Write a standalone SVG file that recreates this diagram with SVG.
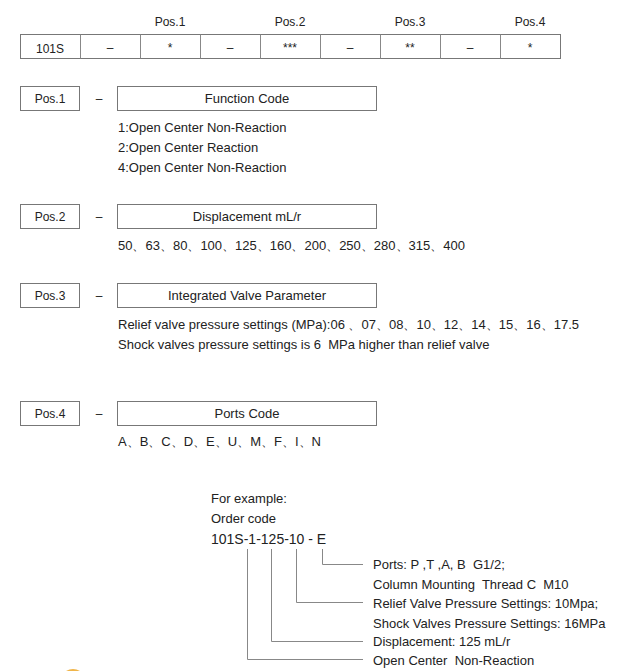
<svg xmlns="http://www.w3.org/2000/svg" width="618" height="671" viewBox="0 0 618 671">
<style>
text{font-family:"Liberation Sans",Arial,sans-serif;fill:#222;}
.t{font-size:12px;}
.c{text-anchor:middle;}
.b{fill:#fff;stroke:#777;stroke-width:1;}
.l{font-size:13px;}
.ln{stroke:#888;stroke-width:1;fill:none;}
</style>
<g id="header">
<text class="t c" x="170" y="25.5">Pos.1</text>
<text class="t c" x="290" y="25.5">Pos.2</text>
<text class="t c" x="410" y="25.5">Pos.3</text>
<text class="t c" x="530" y="25.5">Pos.4</text>
</g>
<g id="code-table">
<rect class="b" x="20.5" y="34.5" width="540" height="24"/>
<path class="ln" d="M80.5 34.5V58.5M140.5 34.5V58.5M200.5 34.5V58.5M260.5 34.5V58.5M320.5 34.5V58.5M380.5 34.5V58.5M440.5 34.5V58.5M500.5 34.5V58.5"/>
<text class="t c" x="50" y="53">101S</text>
<text class="t c" x="110" y="52">–</text>
<text class="t c" x="170" y="52">*</text>
<text class="t c" x="230" y="52">–</text>
<text class="t c" x="290" y="52">***</text>
<text class="t c" x="350" y="52">–</text>
<text class="t c" x="410" y="52">**</text>
<text class="t c" x="470" y="52">–</text>
<text class="t c" x="530" y="52">*</text>
</g>
<g id="pos1">
<rect class="b" x="20.5" y="86.5" width="59" height="24"/>
<text class="t c" x="50" y="103">Pos.1</text>
<text class="t c" x="99" y="103">–</text>
<rect class="b" x="117.5" y="86.5" width="259" height="24"/>
<text class="l c" x="247" y="103">Function Code</text>
<text class="l" x="118" y="132">1:Open Center Non-Reaction</text>
<text class="l" x="118" y="152">2:Open Center Reaction</text>
<text class="l" x="118" y="172">4:Open Center Non-Reaction</text>
</g>
<g id="pos2">
<rect class="b" x="20.5" y="204.5" width="59" height="24"/>
<text class="t c" x="50" y="221">Pos.2</text>
<text class="t c" x="99" y="221">–</text>
<rect class="b" x="117.5" y="204.5" width="259" height="24"/>
<text class="l c" x="247" y="221">Displacement mL/r</text>
<text class="l" x="118" y="250">50、63、80、100、125、160、200、250、280、315、400</text>
</g>
<g id="pos3">
<rect class="b" x="20.5" y="283.5" width="59" height="24"/>
<text class="t c" x="50" y="300">Pos.3</text>
<text class="t c" x="99" y="300">–</text>
<rect class="b" x="117.5" y="283.5" width="259" height="24"/>
<text class="l c" x="247" y="300">Integrated Valve Parameter</text>
<text class="l" x="118" y="329">Relief valve pressure settings (MPa):06 、07、08、10、12、14、15、16、17.5</text>
<text class="l" x="118" y="349" xml:space="preserve">Shock valves pressure settings is 6  MPa higher than relief valve</text>
</g>
<g id="pos4">
<rect class="b" x="20.5" y="401.5" width="59" height="24"/>
<text class="t c" x="50" y="418">Pos.4</text>
<text class="t c" x="99" y="418">–</text>
<rect class="b" x="117.5" y="401.5" width="259" height="24"/>
<text class="l c" x="247" y="418">Ports Code</text>
<text class="l" x="118" y="446">A、B、C、D、E、U、M、F、I、N</text>
</g>
<g id="example">
<text class="l" x="211" y="503">For example:</text>
<text class="l" x="211" y="523">Order code</text>
<text x="211" y="544" style="font-size:14px">101S-1-125-10 - E</text>
<text class="l" x="373" y="569" xml:space="preserve">Ports: P ,T ,A, B  G1/2;</text>
<text class="l" x="373" y="589" xml:space="preserve">Column Mounting  Thread C  M10</text>
<text class="l" x="373" y="608">Relief Valve Pressure Settings: 10Mpa;</text>
<text class="l" x="373" y="628">Shock Valves Pressure Settings: 16MPa</text>
<text class="l" x="373" y="646">Displacement: 125 mL/r</text>
<text class="l" x="373" y="665" xml:space="preserve">Open Center  Non-Reaction</text>
</g>
<g id="connectors">
<path class="ln" d="M322.5 549V564.5H363"/>
<path class="ln" d="M296.5 549V602.5H363"/>
<path class="ln" d="M271.5 549V641.5H363"/>
<path class="ln" d="M247.5 549V659.5H363"/>
</g>
<path d="M66 671Q73 667 80 671Z" fill="#f0b54a"/>
</svg>
